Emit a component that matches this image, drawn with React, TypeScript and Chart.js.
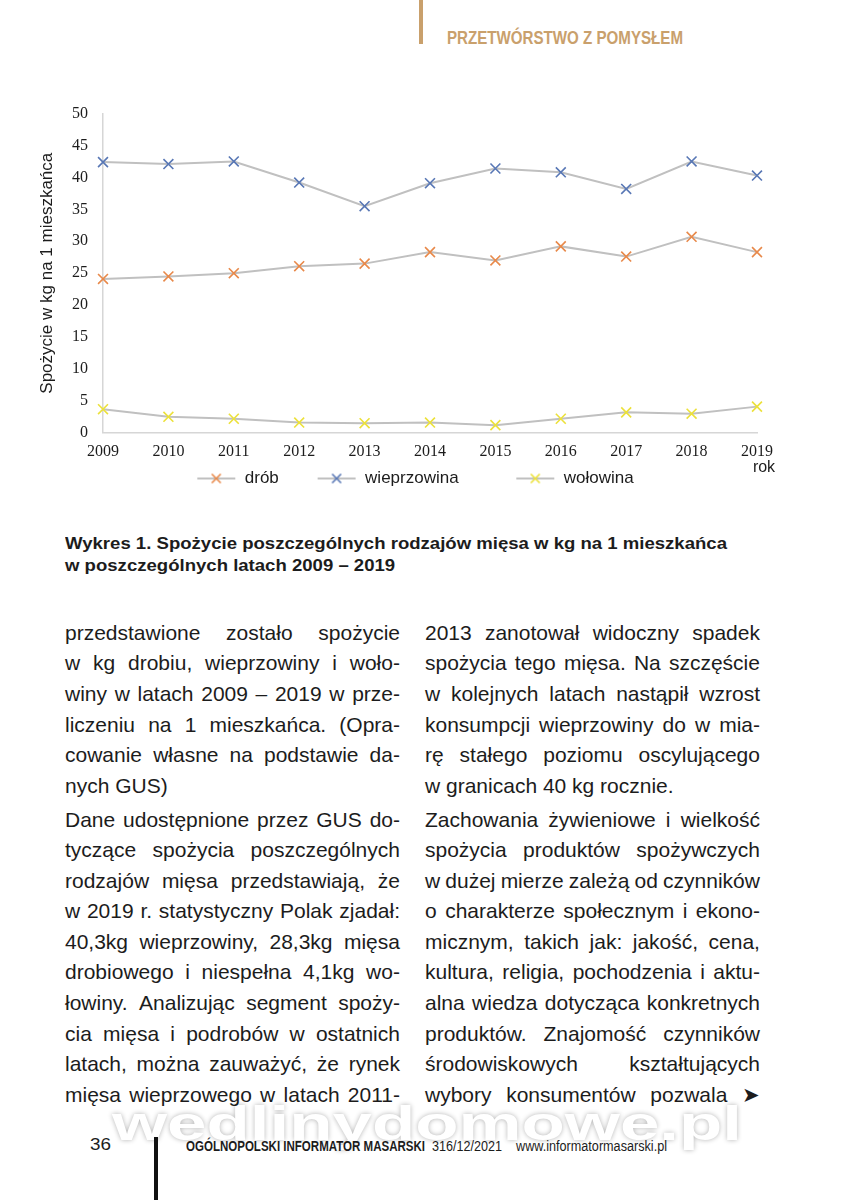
import React, { useEffect, useRef, useMemo } from 'react';
import { Chart, registerables } from 'chart.js';

Chart.register(...registerables);

// ---------- data ----------
const YEARS = ['2009', '2010', '2011', '2012', '2013', '2014', '2015', '2016', '2017', '2018', '2019'];
const DROB = [24.1, 24.5, 25.0, 26.1, 26.5, 28.3, 27.0, 29.2, 27.6, 30.7, 28.3];
const WIEPRZOWINA = [42.4, 42.1, 42.5, 39.2, 35.5, 39.1, 41.4, 40.8, 38.2, 42.5, 40.3];
const WOLOWINA = [3.7, 2.5, 2.2, 1.6, 1.5, 1.6, 1.2, 2.2, 3.2, 3.0, 4.1];
const SERIES_NAMES = ['drób', 'wieprzowina', 'wołowina'];
const Y_MIN = 0;
const Y_MAX = 50;
const Y_STEP = 5;
const Y_TITLE = 'Spożycie w kg na 1 mieszkańca';
const X_TITLE = 'rok';

// ---------- styles ----------
const SANS = "'Liberation Sans', Arial, Helvetica, sans-serif";
const SERIF = "'Liberation Serif', 'Times New Roman', serif";
const LINE_GREY = '#c0c0c0';
const AXIS_GREY = '#d6d6d6';
const MARKER_COLORS = ['#e8894a', '#5877b5', '#ece13a'];
const TEXT = '#1c1c1c';
const GOLD = '#c9a06c';

function makeLegendIcon(color: string): HTMLCanvasElement {
  const c = document.createElement('canvas');
  c.width = 40;
  c.height = 16;
  const g = c.getContext('2d')!;
  g.strokeStyle = LINE_GREY;
  g.lineWidth = 2;
  g.beginPath();
  g.moveTo(1, 8);
  g.lineTo(39, 8);
  g.stroke();
  g.strokeStyle = color;
  g.lineWidth = 1.6;
  const r = 4.5;
  g.beginPath();
  g.moveTo(20 - r, 8 - r);
  g.lineTo(20 + r, 8 + r);
  g.moveTo(20 + r, 8 - r);
  g.lineTo(20 - r, 8 + r);
  g.stroke();
  return c;
}

const rokPlugin = {
  id: 'rokLabel',
  afterLayout(chart: any) {
    // centre the legend over the whole canvas width
    if (chart.legend) {
      chart.legend.left = 0;
      chart.legend.right = chart.width;
    }
  },
  afterDraw(chart: any) {
    const xs = chart.scales.x;
    const ctx = chart.ctx;
    ctx.save();
    ctx.font = `16px ${SANS}`;
    ctx.fillStyle = TEXT;
    ctx.textAlign = 'center';
    ctx.textBaseline = 'middle';
    ctx.fillText(X_TITLE, xs.getPixelForValue(YEARS.length - 1) + 7, xs.top + 35);
    ctx.restore();
  },
};

function MeatChart() {
  const ref = useRef<HTMLCanvasElement>(null);
  useEffect(() => {
    if (!ref.current) return;
    const series = [DROB, WIEPRZOWINA, WOLOWINA];
    const icons = MARKER_COLORS.map(makeLegendIcon);
    const legendText = [
      SERIES_NAMES[0] + '        ',
      SERIES_NAMES[1] + '            ',
      SERIES_NAMES[2],
    ];
    const chart = new Chart(ref.current, {
      type: 'line',
      data: {
        labels: YEARS,
        datasets: series.map((d, i) => ({
          label: SERIES_NAMES[i],
          data: d,
          borderColor: LINE_GREY,
          borderWidth: 2,
          backgroundColor: MARKER_COLORS[i],
          pointStyle: 'crossRot',
          pointRadius: 7,
          pointBorderColor: MARKER_COLORS[i],
          pointBackgroundColor: MARKER_COLORS[i],
          pointBorderWidth: 1.6,
          tension: 0,
          fill: false,
        })),
      },
      options: {
        animation: false,
        responsive: false,
        layout: { padding: { top: 0, right: 43, bottom: 0, left: 0 } },
        scales: {
          x: {
            offset: false,
            grid: { display: false, drawTicks: false },
            border: { display: true, color: AXIS_GREY, width: 1.5 },
            ticks: {
              font: { family: SERIF, size: 16 },
              color: TEXT,
              padding: 9,
              autoSkip: false,
              maxRotation: 0,
            },
          },
          y: {
            min: Y_MIN,
            max: Y_MAX,
            grid: { display: false, drawTicks: false },
            border: { display: true, color: AXIS_GREY, width: 1.5 },
            ticks: {
              stepSize: Y_STEP,
              font: { family: SERIF, size: 16 },
              color: TEXT,
              padding: 15,
            },
            title: {
              display: true,
              text: Y_TITLE,
              font: { family: SANS, size: 17 },
              color: TEXT,
              padding: { top: 7, bottom: 0 },
            },
            afterFit: (s: any) => {
              s.width = 73;
            },
          },
        },
        plugins: {
          tooltip: { enabled: false },
          legend: {
            position: 'bottom',
            labels: {
              usePointStyle: true,
              pointStyleWidth: 40,
              padding: 0,
              color: TEXT,
              font: { family: SANS, size: 17 },
              generateLabels: (ch: any) => {
                const items = (Chart.defaults.plugins.legend.labels as any).generateLabels(ch);
                return items.map((it: any, i: number) => ({
                  ...it,
                  text: legendText[i],
                  pointStyle: icons[i],
                }));
              },
            },
          },
        },
      } as any,
      plugins: [rokPlugin],
    });
    return () => chart.destroy();
  }, []);
  return (
    <canvas
      ref={ref}
      width={770}
      height={408}
      style={{ position: 'absolute', left: 30, top: 89, width: 770, height: 408 }}
    />
  );
}

// ---------- text helpers ----------
function measure(text: string, font: string): number {
  const c = document.createElement('canvas').getContext('2d')!;
  c.font = font;
  return c.measureText(text).width;
}

function FitText(props: {
  text: string;
  x: number;
  baseline: number;
  size: number;
  weight?: string;
  width?: number;
  scale?: number;
  color?: string;
  family?: string;
  extra?: React.CSSProperties;
}) {
  const { text, x, baseline, size, weight = 'normal', width, color = TEXT, family = SANS, extra } = props;
  const font = `${weight} ${size}px ${family}`;
  const scale = useMemo(() => {
    if (props.scale) return props.scale;
    if (!width) return 1;
    return width / measure(text, font);
  }, [text, font, width, props.scale]);
  return (
    <div
      style={{
        position: 'absolute',
        left: x,
        top: baseline - 0.8465 * size,
        font,
        lineHeight: 1,
        height: size,
        whiteSpace: 'pre',
        color,
        transform: `scaleX(${scale})`,
        transformOrigin: '0 0',
        ...extra,
      }}
    >
      {text}
    </div>
  );
}

const BODY_SIZE = 21;
const BODY_LH = 30.55;
const PARA_GAP = 3.5;

type Para = { lines: string[] };

const LEFT_COL: Para[] = [
  {
    lines: [
      'przedstawione zostało spożycie',
      'w kg drobiu, wieprzowiny i woło-',
      'winy w latach 2009 – 2019 w prze-',
      'liczeniu na 1 mieszkańca. (Opra-',
      'cowanie własne na podstawie da-',
      'nych GUS)',
    ],
  },
  {
    lines: [
      'Dane udostępnione przez GUS do-',
      'tyczące spożycia poszczególnych',
      'rodzajów mięsa przedstawiają, że',
      'w 2019 r. statystyczny Polak zjadał:',
      '40,3kg wieprzowiny, 28,3kg mięsa',
      'drobiowego i niespełna 4,1kg wo-',
      'łowiny. Analizując segment spoży-',
      'cia mięsa i podrobów w ostatnich',
      'latach, można zauważyć, że rynek',
      'mięsa wieprzowego w latach 2011-',
    ],
  },
];

const RIGHT_COL: Para[] = [
  {
    lines: [
      '2013 zanotował widoczny spadek',
      'spożycia tego mięsa. Na szczęście',
      'w kolejnych latach nastąpił wzrost',
      'konsumpcji wieprzowiny do w mia-',
      'rę stałego poziomu oscylującego',
      'w granicach 40 kg rocznie.',
    ],
  },
  {
    lines: [
      'Zachowania żywieniowe i wielkość',
      'spożycia produktów spożywczych',
      'w dużej mierze zależą od czynników',
      'o charakterze społecznym i ekono-',
      'micznym, takich jak: jakość, cena,',
      'kultura, religia, pochodzenia i aktu-',
      'alna wiedza dotycząca konkretnych',
      'produktów. Znajomość czynników',
      'środowiskowych kształtujących',
      'wybory konsumentów pozwala ➤',
    ],
  },
];

function Column({ paras, left, top, lastJustified }: { paras: Para[]; left: number; top: number; lastJustified: boolean }) {
  return (
    <div
      style={{
        position: 'absolute',
        left,
        top,
        width: 335,
        font: `${BODY_SIZE}px ${SANS}`,
        lineHeight: `${BODY_LH}px`,
        color: TEXT,
      }}
    >
      {paras.map((p, pi) => (
        <div key={pi} style={{ marginBottom: PARA_GAP }}>
          {p.lines.map((ln, li) => {
            const isLast = li === p.lines.length - 1;
            const justify = !isLast || (pi === paras.length - 1 && lastJustified);
            if (!justify) {
              return (
                <div key={li} style={{ height: BODY_LH, whiteSpace: 'pre' }}>
                  {ln}
                </div>
              );
            }
            return (
              <div key={li} style={{ height: BODY_LH, display: 'flex', justifyContent: 'space-between' }}>
                {ln.split(' ').map((w, wi) => (
                  <span key={wi} style={{ whiteSpace: 'pre' }}>
                    {w}
                  </span>
                ))}
              </div>
            );
          })}
        </div>
      ))}
    </div>
  );
}

const CAPTION_1 = 'Wykres 1. Spożycie poszczególnych rodzajów mięsa w kg na 1 mieszkańca';
const CAPTION_2 = 'w poszczególnych latach 2009 – 2019';
const HEADER = 'PRZETWÓRSTWO Z POMYSŁEM';
const PAGE_NO = '36';
const FOOT_BOLD = 'OGÓLNOPOLSKI INFORMATOR MASARSKI';
const FOOT_ISSUE = '316/12/2021';
const FOOT_URL = 'www.informatormasarski.pl';
const WATERMARK = 'wedlinydomowe.pl';

export default function App() {
  const capFont = `bold 17px ${SANS}`;
  const capScale = useMemo(() => 662 / measure(CAPTION_1, capFont), [capFont]);
  const colTop = 640.5 - (BODY_LH - 1.117 * BODY_SIZE) / 2 - 0.905 * BODY_SIZE;
  return (
    <div
      style={{
        position: 'absolute',
        left: 0,
        top: 0,
        width: 843,
        height: 1200,
        overflow: 'hidden',
        background: '#ffffff',
      }}
    >
      {/* header */}
      <div style={{ position: 'absolute', left: 419, top: 0, width: 4, height: 44, background: GOLD }} />
      <FitText text={HEADER} x={447} baseline={44.3} size={18} weight="bold" width={236} color={GOLD} />

      <MeatChart />

      {/* caption */}
      <FitText text={CAPTION_1} x={65} baseline={549} size={17} weight="bold" scale={capScale} />
      <FitText text={CAPTION_2} x={65} baseline={571} size={17} weight="bold" scale={capScale} />

      {/* watermark */}
      <FitText
        text={WATERMARK}
        x={112}
        baseline={1141}
        size={48}
        weight="bold"
        width={630}
        color="#ffffff"
        extra={{ textShadow: '0 0 4px rgba(0,0,0,0.3)' }}
      />

      {/* body */}
      <Column paras={LEFT_COL} left={65} top={colTop} lastJustified={true} />
      <Column paras={RIGHT_COL} left={425} top={colTop} lastJustified={true} />

      {/* footer */}
      <FitText text={PAGE_NO} x={90} baseline={1150} size={17} width={21} />
      <div style={{ position: 'absolute', left: 154, top: 1137, width: 4, height: 63, background: '#111' }} />
      <FitText text={FOOT_BOLD} x={186} baseline={1151} size={14} weight="bold" width={239} />
      <FitText text={FOOT_ISSUE} x={432} baseline={1151} size={14} width={70} />
      <FitText text={FOOT_URL} x={516} baseline={1151} size={14} width={151} />
    </div>
  );
}
